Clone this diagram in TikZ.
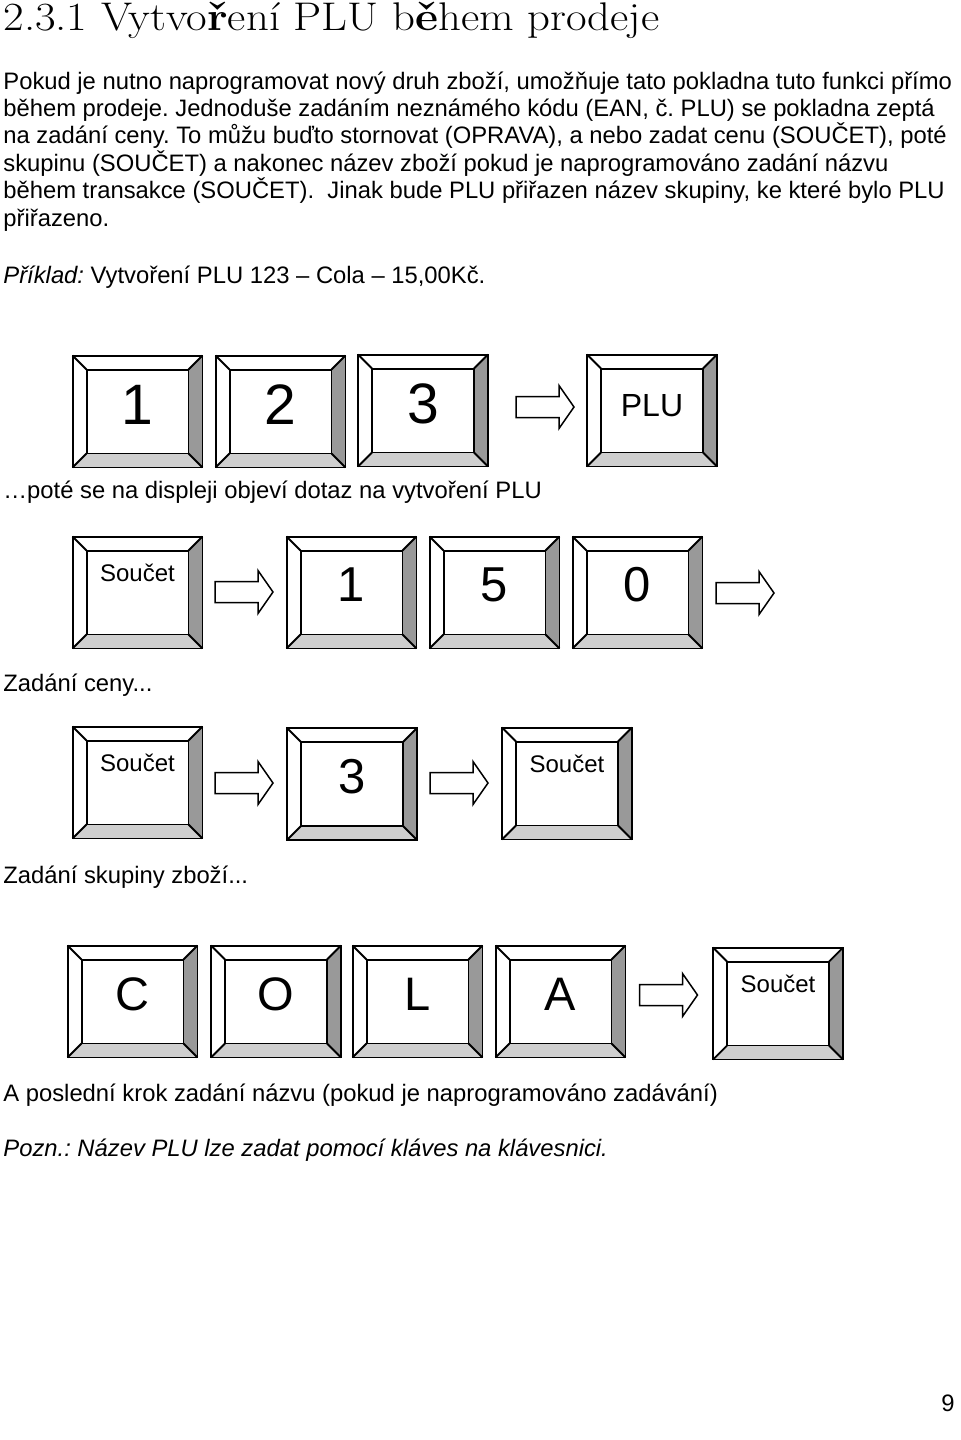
\documentclass[tikz,border=0pt]{standalone}
\usepackage{fontspec}
\newfontfamily\arialfont{Liberation Sans}
\definecolor{bevdark}{gray}{0.6}
\definecolor{bevlight}{gray}{0.81}
\tikzset{
  keybox/.style={minimum width=64.5pt,minimum height=55.5pt,inner sep=0pt},
  keyface/.style={minimum width=50.5pt,minimum height=41.5pt,inner sep=0pt},
  keyline/.style={line width=0.9pt},
  blockarrow/.style={draw,line width=0.75pt,fill=white,line join=miter},
  bodytext/.style={anchor=base west,inner sep=0pt,font=\arialfont\fontsize{11.9}{13}\selectfont},
  keyone/.style={inner sep=0pt,yshift=3.3pt,font=\arialfont\fontsize{28.5}{30}\selectfont},
  keytwo/.style={inner sep=0pt,yshift=3.8pt,font=\arialfont\fontsize{24.5}{26}\selectfont},
  keyfour/.style={inner sep=0pt,yshift=3.7pt,font=\arialfont\fontsize{23.5}{25}\selectfont},
  plutext/.style={inner sep=0pt,yshift=2.5pt,font=\arialfont\fontsize{16}{18}\selectfont},
  soucet/.style={inner sep=0pt,yshift=10pt,font=\arialfont\fontsize{12}{14}\selectfont}
}
\newcommand\keycap[5]{%
  \node[keybox] (#1) at (#2,#3) {};
  \node[keyface] (#1f) at (#1) {};
  \fill[bevdark] (#1.north east) -- (#1.south east) -- (#1f.south east) -- (#1f.north east) -- cycle;
  \fill[bevlight] (#1.south west) -- (#1.south east) -- (#1f.south east) -- (#1f.south west) -- cycle;
  \draw[keyline] (#1f.north west) rectangle (#1f.south east);
  \draw[keyline] (#1.north west) -- (#1f.north west) (#1.north east) -- (#1f.north east)
    (#1.south east) -- (#1f.south east) (#1.south west) -- (#1f.south west);
  \draw[keyline] (#1.north west) rectangle (#1.south east);
  \node[#4] (#1t) at (#1) {#5};
}
\newcommand\blockarr[3]{%
  \coordinate (#1) at (#2,#3);
  \draw[blockarrow] (#1) ++(-29,-10.5) -- ++(43,0) -- ++(0,-11) -- ++(15,21.5)
    -- ++(-15,21.5) -- ++(0,-11) -- ++(-43,0) -- cycle;
}
\begin{document}
\frenchspacing
\begin{tikzpicture}[x=0.5pt,y=-0.5pt]
  \fill[white] (0,0) rectangle (960,1440);
  \useasboundingbox (0,0) rectangle (960,1440);
  \node[anchor=base west,inner sep=0pt,xscale=1.12,font=\fontsize{20}{22}\selectfont] (title)
    at (3,31) {2.3.1 Vytvo{\bfseries ř}ení PLU b{\bfseries ě}hem prodeje};
  \node[bodytext] (p1) at (3,89) {Pokud je nutno naprogramovat nový druh zboží, umožňuje tato pokladna tuto funkci přímo};
  \node[bodytext] (p2) at (3,116.4) {během prodeje. Jednoduše zadáním neznámého kódu (EAN, č. PLU) se pokladna zeptá};
  \node[bodytext] (p3) at (3,143.8) {na zadání ceny. To můžu buďto stornovat (OPRAVA), a nebo zadat cenu (SOUČET), poté};
  \node[bodytext] (p4) at (3,171.2) {skupinu (SOUČET) a nakonec název zboží pokud je naprogramováno zadání názvu};
  \node[bodytext] (p5) at (3,198.6) {během transakce (SOUČET).~ Jinak bude PLU přiřazen název skupiny, ke které bylo PLU};
  \node[bodytext] (p6) at (3,226) {přiřazeno.};
  \node[bodytext] (priklad) at (3,283) {\textit{Příklad:} Vytvoření PLU 123 – Cola – 15,00Kč.};

  \keycap{ka}{137.5}{411.5}{keyone}{1}
  \keycap{kb}{280.5}{411.5}{keyone}{2}
  \keycap{kc}{423}{410.5}{keyone}{3}
  \blockarr{aa}{545}{407}
  \keycap{plu}{652}{410.5}{plutext}{PLU}
  \node[bodytext] (dotaz) at (3,498) {…poté se na displeji objeví dotaz na vytvoření PLU};

  \keycap{sa}{137.5}{592.5}{soucet}{Součet}
  \blockarr{ab}{244}{592}
  \keycap{kd}{351.5}{592.5}{keytwo}{1}
  \keycap{ke}{494.5}{592.5}{keytwo}{5}
  \keycap{kf}{637.5}{592.5}{keytwo}{0}
  \blockarr{ac}{745}{593}
  \node[bodytext] (cena) at (3,691) {Zadání ceny...};

  \keycap{sb}{137.5}{782.5}{soucet}{Součet}
  \blockarr{ad}{244}{783}
  \keycap{kg}{352}{784}{keytwo}{3}
  \blockarr{ae}{459}{783}
  \keycap{sc}{567}{783.5}{soucet}{Součet}
  \node[bodytext] (skupina) at (3,883) {Zadání skupiny zboží...};

  \keycap{kh}{132.5}{1001.5}{keyfour}{C}
  \keycap{ki}{276}{1001.5}{keyfour}{O}
  \keycap{kj}{417.5}{1001.5}{keyfour}{L}
  \keycap{kk}{560.5}{1001.5}{keyfour}{A}
  \blockarr{af}{668.5}{995}
  \keycap{sd}{778}{1003.5}{soucet}{Součet}
  \node[bodytext] (krok) at (3,1101) {A poslední krok zadání názvu (pokud je naprogramováno zadávání)};
  \node[bodytext] (pozn) at (3,1156) {\itshape Pozn.: Název PLU lze zadat pomocí kláves na klávesnici.};
  \node[bodytext,anchor=base east] (strana) at (955,1411) {9};
\end{tikzpicture}
\end{document}
